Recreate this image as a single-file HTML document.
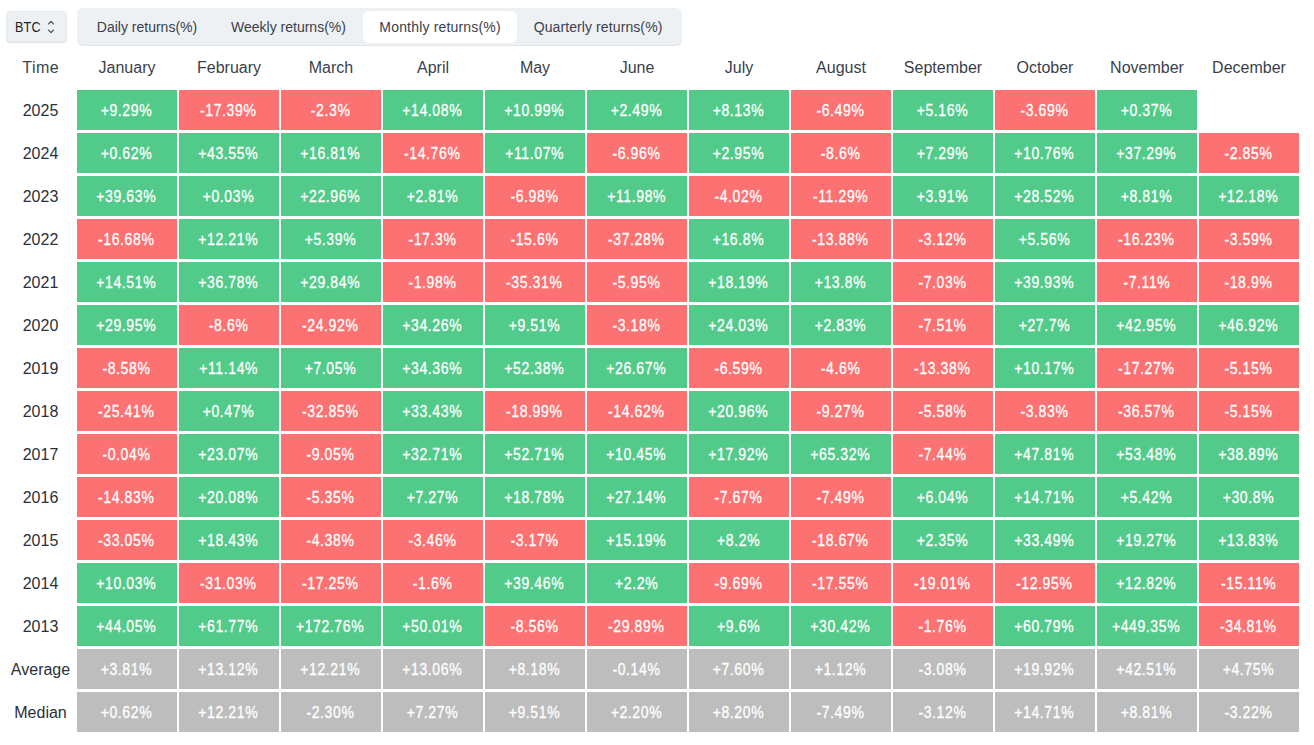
<!DOCTYPE html>
<html><head><meta charset="utf-8"><title>Monthly returns</title>
<style>
html,body{margin:0;padding:0;background:#fff;}
body{width:1314px;height:745px;position:relative;overflow:hidden;font-family:"Liberation Sans",sans-serif;color:#3A3F4B;}
.sel{position:absolute;left:6px;top:11px;width:59px;height:29px;background:#EEF1F4;border:1px solid #E6E9ED;border-radius:4px;box-shadow:0 1px 0 #E1E3E6;}
.sel span{position:absolute;left:7.5px;top:7px;font-size:14px;line-height:16px;letter-spacing:0.2px;color:#1E2329;transform:scaleX(0.9);transform-origin:0 50%;}
.sel svg{position:absolute;left:39px;top:7px;}
.tabs{position:absolute;left:77px;top:8px;width:605px;height:37px;background:#EEF1F4;border-radius:6px;box-shadow:0 1px 0 #E2E4E7;}
.pill{position:absolute;left:286px;top:3px;width:154px;height:31.5px;background:#fff;border-radius:6px;}
.tab{position:absolute;top:10px;height:18px;line-height:18px;font-size:14px;text-align:center;color:#3A3F4B;white-space:nowrap;}
.hd{position:absolute;top:58px;height:20px;line-height:20px;font-size:16px;text-align:center;color:#3A3F4B;white-space:nowrap;}
.lb{position:absolute;height:40px;line-height:42px;font-size:16px;text-align:center;color:#2B3139;white-space:nowrap;}
.c{position:absolute;width:100px;height:40px;line-height:42px;font-size:16px;-webkit-text-stroke:0.3px #fff;text-align:center;color:#fff;white-space:nowrap;}
.c span{display:inline-block;transform:scaleX(0.875);transform-origin:50% 50%;letter-spacing:0.7px;margin-left:-1px;}
.g{background:#52CA8A;}
.r{background:#FC7171;}
.y{background:#BDBDBD;}
</style></head><body>

<div class="sel"><span>BTC</span><svg width="10" height="16" viewBox="0 0 10 16"><path d="M2.6 4.9 L5 2.4 L7.4 4.9 M2.6 11.1 L5 13.6 L7.4 11.1" fill="none" stroke="#4F545B" stroke-width="1.35" stroke-linecap="round" stroke-linejoin="round"/></svg></div>
<div class="tabs"><div class="pill"></div>
<div class="tab" style="left:3px;width:134px">Daily returns(%)</div>
<div class="tab" style="left:137px;width:149px">Weekly returns(%)</div>
<div class="tab" style="left:286px;width:154px;letter-spacing:0.18px;text-indent:0.18px">Monthly returns(%)</div>
<div class="tab" style="left:440px;width:162px;letter-spacing:0.1px;text-indent:0.1px">Quarterly returns(%)</div>
</div>
<div class="hd" style="left:5px;width:71px;letter-spacing:0.5px;text-indent:0.5px">Time</div>
<div class="hd" style="left:77px;width:100px">January</div>
<div class="hd" style="left:179px;width:100px">February</div>
<div class="hd" style="left:281px;width:100px">March</div>
<div class="hd" style="left:383px;width:100px">April</div>
<div class="hd" style="left:485px;width:100px">May</div>
<div class="hd" style="left:587px;width:100px">June</div>
<div class="hd" style="left:689px;width:100px">July</div>
<div class="hd" style="left:791px;width:100px">August</div>
<div class="hd" style="left:893px;width:100px">September</div>
<div class="hd" style="left:995px;width:100px">October</div>
<div class="hd" style="left:1097px;width:100px">November</div>
<div class="hd" style="left:1199px;width:100px">December</div>
<div class="lb" style="left:5px;width:71px;top:90px">2025</div>
<div class="c g" style="left:77px;top:90px"><span>+9.29%</span></div>
<div class="c r" style="left:179px;top:90px"><span>-17.39%</span></div>
<div class="c r" style="left:281px;top:90px"><span>-2.3%</span></div>
<div class="c g" style="left:383px;top:90px"><span>+14.08%</span></div>
<div class="c g" style="left:485px;top:90px"><span>+10.99%</span></div>
<div class="c g" style="left:587px;top:90px"><span>+2.49%</span></div>
<div class="c g" style="left:689px;top:90px"><span>+8.13%</span></div>
<div class="c r" style="left:791px;top:90px"><span>-6.49%</span></div>
<div class="c g" style="left:893px;top:90px"><span>+5.16%</span></div>
<div class="c r" style="left:995px;top:90px"><span>-3.69%</span></div>
<div class="c g" style="left:1097px;top:90px"><span>+0.37%</span></div>
<div class="lb" style="left:5px;width:71px;top:133px">2024</div>
<div class="c g" style="left:77px;top:133px"><span>+0.62%</span></div>
<div class="c g" style="left:179px;top:133px"><span>+43.55%</span></div>
<div class="c g" style="left:281px;top:133px"><span>+16.81%</span></div>
<div class="c r" style="left:383px;top:133px"><span>-14.76%</span></div>
<div class="c g" style="left:485px;top:133px"><span>+11.07%</span></div>
<div class="c r" style="left:587px;top:133px"><span>-6.96%</span></div>
<div class="c g" style="left:689px;top:133px"><span>+2.95%</span></div>
<div class="c r" style="left:791px;top:133px"><span>-8.6%</span></div>
<div class="c g" style="left:893px;top:133px"><span>+7.29%</span></div>
<div class="c g" style="left:995px;top:133px"><span>+10.76%</span></div>
<div class="c g" style="left:1097px;top:133px"><span>+37.29%</span></div>
<div class="c r" style="left:1199px;top:133px"><span>-2.85%</span></div>
<div class="lb" style="left:5px;width:71px;top:176px">2023</div>
<div class="c g" style="left:77px;top:176px"><span>+39.63%</span></div>
<div class="c g" style="left:179px;top:176px"><span>+0.03%</span></div>
<div class="c g" style="left:281px;top:176px"><span>+22.96%</span></div>
<div class="c g" style="left:383px;top:176px"><span>+2.81%</span></div>
<div class="c r" style="left:485px;top:176px"><span>-6.98%</span></div>
<div class="c g" style="left:587px;top:176px"><span>+11.98%</span></div>
<div class="c r" style="left:689px;top:176px"><span>-4.02%</span></div>
<div class="c r" style="left:791px;top:176px"><span>-11.29%</span></div>
<div class="c g" style="left:893px;top:176px"><span>+3.91%</span></div>
<div class="c g" style="left:995px;top:176px"><span>+28.52%</span></div>
<div class="c g" style="left:1097px;top:176px"><span>+8.81%</span></div>
<div class="c g" style="left:1199px;top:176px"><span>+12.18%</span></div>
<div class="lb" style="left:5px;width:71px;top:219px">2022</div>
<div class="c r" style="left:77px;top:219px"><span>-16.68%</span></div>
<div class="c g" style="left:179px;top:219px"><span>+12.21%</span></div>
<div class="c g" style="left:281px;top:219px"><span>+5.39%</span></div>
<div class="c r" style="left:383px;top:219px"><span>-17.3%</span></div>
<div class="c r" style="left:485px;top:219px"><span>-15.6%</span></div>
<div class="c r" style="left:587px;top:219px"><span>-37.28%</span></div>
<div class="c g" style="left:689px;top:219px"><span>+16.8%</span></div>
<div class="c r" style="left:791px;top:219px"><span>-13.88%</span></div>
<div class="c r" style="left:893px;top:219px"><span>-3.12%</span></div>
<div class="c g" style="left:995px;top:219px"><span>+5.56%</span></div>
<div class="c r" style="left:1097px;top:219px"><span>-16.23%</span></div>
<div class="c r" style="left:1199px;top:219px"><span>-3.59%</span></div>
<div class="lb" style="left:5px;width:71px;top:262px">2021</div>
<div class="c g" style="left:77px;top:262px"><span>+14.51%</span></div>
<div class="c g" style="left:179px;top:262px"><span>+36.78%</span></div>
<div class="c g" style="left:281px;top:262px"><span>+29.84%</span></div>
<div class="c r" style="left:383px;top:262px"><span>-1.98%</span></div>
<div class="c r" style="left:485px;top:262px"><span>-35.31%</span></div>
<div class="c r" style="left:587px;top:262px"><span>-5.95%</span></div>
<div class="c g" style="left:689px;top:262px"><span>+18.19%</span></div>
<div class="c g" style="left:791px;top:262px"><span>+13.8%</span></div>
<div class="c r" style="left:893px;top:262px"><span>-7.03%</span></div>
<div class="c g" style="left:995px;top:262px"><span>+39.93%</span></div>
<div class="c r" style="left:1097px;top:262px"><span>-7.11%</span></div>
<div class="c r" style="left:1199px;top:262px"><span>-18.9%</span></div>
<div class="lb" style="left:5px;width:71px;top:305px">2020</div>
<div class="c g" style="left:77px;top:305px"><span>+29.95%</span></div>
<div class="c r" style="left:179px;top:305px"><span>-8.6%</span></div>
<div class="c r" style="left:281px;top:305px"><span>-24.92%</span></div>
<div class="c g" style="left:383px;top:305px"><span>+34.26%</span></div>
<div class="c g" style="left:485px;top:305px"><span>+9.51%</span></div>
<div class="c r" style="left:587px;top:305px"><span>-3.18%</span></div>
<div class="c g" style="left:689px;top:305px"><span>+24.03%</span></div>
<div class="c g" style="left:791px;top:305px"><span>+2.83%</span></div>
<div class="c r" style="left:893px;top:305px"><span>-7.51%</span></div>
<div class="c g" style="left:995px;top:305px"><span>+27.7%</span></div>
<div class="c g" style="left:1097px;top:305px"><span>+42.95%</span></div>
<div class="c g" style="left:1199px;top:305px"><span>+46.92%</span></div>
<div class="lb" style="left:5px;width:71px;top:348px">2019</div>
<div class="c r" style="left:77px;top:348px"><span>-8.58%</span></div>
<div class="c g" style="left:179px;top:348px"><span>+11.14%</span></div>
<div class="c g" style="left:281px;top:348px"><span>+7.05%</span></div>
<div class="c g" style="left:383px;top:348px"><span>+34.36%</span></div>
<div class="c g" style="left:485px;top:348px"><span>+52.38%</span></div>
<div class="c g" style="left:587px;top:348px"><span>+26.67%</span></div>
<div class="c r" style="left:689px;top:348px"><span>-6.59%</span></div>
<div class="c r" style="left:791px;top:348px"><span>-4.6%</span></div>
<div class="c r" style="left:893px;top:348px"><span>-13.38%</span></div>
<div class="c g" style="left:995px;top:348px"><span>+10.17%</span></div>
<div class="c r" style="left:1097px;top:348px"><span>-17.27%</span></div>
<div class="c r" style="left:1199px;top:348px"><span>-5.15%</span></div>
<div class="lb" style="left:5px;width:71px;top:391px">2018</div>
<div class="c r" style="left:77px;top:391px"><span>-25.41%</span></div>
<div class="c g" style="left:179px;top:391px"><span>+0.47%</span></div>
<div class="c r" style="left:281px;top:391px"><span>-32.85%</span></div>
<div class="c g" style="left:383px;top:391px"><span>+33.43%</span></div>
<div class="c r" style="left:485px;top:391px"><span>-18.99%</span></div>
<div class="c r" style="left:587px;top:391px"><span>-14.62%</span></div>
<div class="c g" style="left:689px;top:391px"><span>+20.96%</span></div>
<div class="c r" style="left:791px;top:391px"><span>-9.27%</span></div>
<div class="c r" style="left:893px;top:391px"><span>-5.58%</span></div>
<div class="c r" style="left:995px;top:391px"><span>-3.83%</span></div>
<div class="c r" style="left:1097px;top:391px"><span>-36.57%</span></div>
<div class="c r" style="left:1199px;top:391px"><span>-5.15%</span></div>
<div class="lb" style="left:5px;width:71px;top:434px">2017</div>
<div class="c r" style="left:77px;top:434px"><span>-0.04%</span></div>
<div class="c g" style="left:179px;top:434px"><span>+23.07%</span></div>
<div class="c r" style="left:281px;top:434px"><span>-9.05%</span></div>
<div class="c g" style="left:383px;top:434px"><span>+32.71%</span></div>
<div class="c g" style="left:485px;top:434px"><span>+52.71%</span></div>
<div class="c g" style="left:587px;top:434px"><span>+10.45%</span></div>
<div class="c g" style="left:689px;top:434px"><span>+17.92%</span></div>
<div class="c g" style="left:791px;top:434px"><span>+65.32%</span></div>
<div class="c r" style="left:893px;top:434px"><span>-7.44%</span></div>
<div class="c g" style="left:995px;top:434px"><span>+47.81%</span></div>
<div class="c g" style="left:1097px;top:434px"><span>+53.48%</span></div>
<div class="c g" style="left:1199px;top:434px"><span>+38.89%</span></div>
<div class="lb" style="left:5px;width:71px;top:477px">2016</div>
<div class="c r" style="left:77px;top:477px"><span>-14.83%</span></div>
<div class="c g" style="left:179px;top:477px"><span>+20.08%</span></div>
<div class="c r" style="left:281px;top:477px"><span>-5.35%</span></div>
<div class="c g" style="left:383px;top:477px"><span>+7.27%</span></div>
<div class="c g" style="left:485px;top:477px"><span>+18.78%</span></div>
<div class="c g" style="left:587px;top:477px"><span>+27.14%</span></div>
<div class="c r" style="left:689px;top:477px"><span>-7.67%</span></div>
<div class="c r" style="left:791px;top:477px"><span>-7.49%</span></div>
<div class="c g" style="left:893px;top:477px"><span>+6.04%</span></div>
<div class="c g" style="left:995px;top:477px"><span>+14.71%</span></div>
<div class="c g" style="left:1097px;top:477px"><span>+5.42%</span></div>
<div class="c g" style="left:1199px;top:477px"><span>+30.8%</span></div>
<div class="lb" style="left:5px;width:71px;top:520px">2015</div>
<div class="c r" style="left:77px;top:520px"><span>-33.05%</span></div>
<div class="c g" style="left:179px;top:520px"><span>+18.43%</span></div>
<div class="c r" style="left:281px;top:520px"><span>-4.38%</span></div>
<div class="c r" style="left:383px;top:520px"><span>-3.46%</span></div>
<div class="c r" style="left:485px;top:520px"><span>-3.17%</span></div>
<div class="c g" style="left:587px;top:520px"><span>+15.19%</span></div>
<div class="c g" style="left:689px;top:520px"><span>+8.2%</span></div>
<div class="c r" style="left:791px;top:520px"><span>-18.67%</span></div>
<div class="c g" style="left:893px;top:520px"><span>+2.35%</span></div>
<div class="c g" style="left:995px;top:520px"><span>+33.49%</span></div>
<div class="c g" style="left:1097px;top:520px"><span>+19.27%</span></div>
<div class="c g" style="left:1199px;top:520px"><span>+13.83%</span></div>
<div class="lb" style="left:5px;width:71px;top:563px">2014</div>
<div class="c g" style="left:77px;top:563px"><span>+10.03%</span></div>
<div class="c r" style="left:179px;top:563px"><span>-31.03%</span></div>
<div class="c r" style="left:281px;top:563px"><span>-17.25%</span></div>
<div class="c r" style="left:383px;top:563px"><span>-1.6%</span></div>
<div class="c g" style="left:485px;top:563px"><span>+39.46%</span></div>
<div class="c g" style="left:587px;top:563px"><span>+2.2%</span></div>
<div class="c r" style="left:689px;top:563px"><span>-9.69%</span></div>
<div class="c r" style="left:791px;top:563px"><span>-17.55%</span></div>
<div class="c r" style="left:893px;top:563px"><span>-19.01%</span></div>
<div class="c r" style="left:995px;top:563px"><span>-12.95%</span></div>
<div class="c g" style="left:1097px;top:563px"><span>+12.82%</span></div>
<div class="c r" style="left:1199px;top:563px"><span>-15.11%</span></div>
<div class="lb" style="left:5px;width:71px;top:606px">2013</div>
<div class="c g" style="left:77px;top:606px"><span>+44.05%</span></div>
<div class="c g" style="left:179px;top:606px"><span>+61.77%</span></div>
<div class="c g" style="left:281px;top:606px"><span>+172.76%</span></div>
<div class="c g" style="left:383px;top:606px"><span>+50.01%</span></div>
<div class="c r" style="left:485px;top:606px"><span>-8.56%</span></div>
<div class="c r" style="left:587px;top:606px"><span>-29.89%</span></div>
<div class="c g" style="left:689px;top:606px"><span>+9.6%</span></div>
<div class="c g" style="left:791px;top:606px"><span>+30.42%</span></div>
<div class="c r" style="left:893px;top:606px"><span>-1.76%</span></div>
<div class="c g" style="left:995px;top:606px"><span>+60.79%</span></div>
<div class="c g" style="left:1097px;top:606px"><span>+449.35%</span></div>
<div class="c r" style="left:1199px;top:606px"><span>-34.81%</span></div>
<div class="lb" style="left:5px;width:71px;top:649px">Average</div>
<div class="c y" style="left:77px;top:649px"><span>+3.81%</span></div>
<div class="c y" style="left:179px;top:649px"><span>+13.12%</span></div>
<div class="c y" style="left:281px;top:649px"><span>+12.21%</span></div>
<div class="c y" style="left:383px;top:649px"><span>+13.06%</span></div>
<div class="c y" style="left:485px;top:649px"><span>+8.18%</span></div>
<div class="c y" style="left:587px;top:649px"><span>-0.14%</span></div>
<div class="c y" style="left:689px;top:649px"><span>+7.60%</span></div>
<div class="c y" style="left:791px;top:649px"><span>+1.12%</span></div>
<div class="c y" style="left:893px;top:649px"><span>-3.08%</span></div>
<div class="c y" style="left:995px;top:649px"><span>+19.92%</span></div>
<div class="c y" style="left:1097px;top:649px"><span>+42.51%</span></div>
<div class="c y" style="left:1199px;top:649px"><span>+4.75%</span></div>
<div class="lb" style="left:5px;width:71px;top:692px">Median</div>
<div class="c y" style="left:77px;top:692px"><span>+0.62%</span></div>
<div class="c y" style="left:179px;top:692px"><span>+12.21%</span></div>
<div class="c y" style="left:281px;top:692px"><span>-2.30%</span></div>
<div class="c y" style="left:383px;top:692px"><span>+7.27%</span></div>
<div class="c y" style="left:485px;top:692px"><span>+9.51%</span></div>
<div class="c y" style="left:587px;top:692px"><span>+2.20%</span></div>
<div class="c y" style="left:689px;top:692px"><span>+8.20%</span></div>
<div class="c y" style="left:791px;top:692px"><span>-7.49%</span></div>
<div class="c y" style="left:893px;top:692px"><span>-3.12%</span></div>
<div class="c y" style="left:995px;top:692px"><span>+14.71%</span></div>
<div class="c y" style="left:1097px;top:692px"><span>+8.81%</span></div>
<div class="c y" style="left:1199px;top:692px"><span>-3.22%</span></div>
</body></html>
